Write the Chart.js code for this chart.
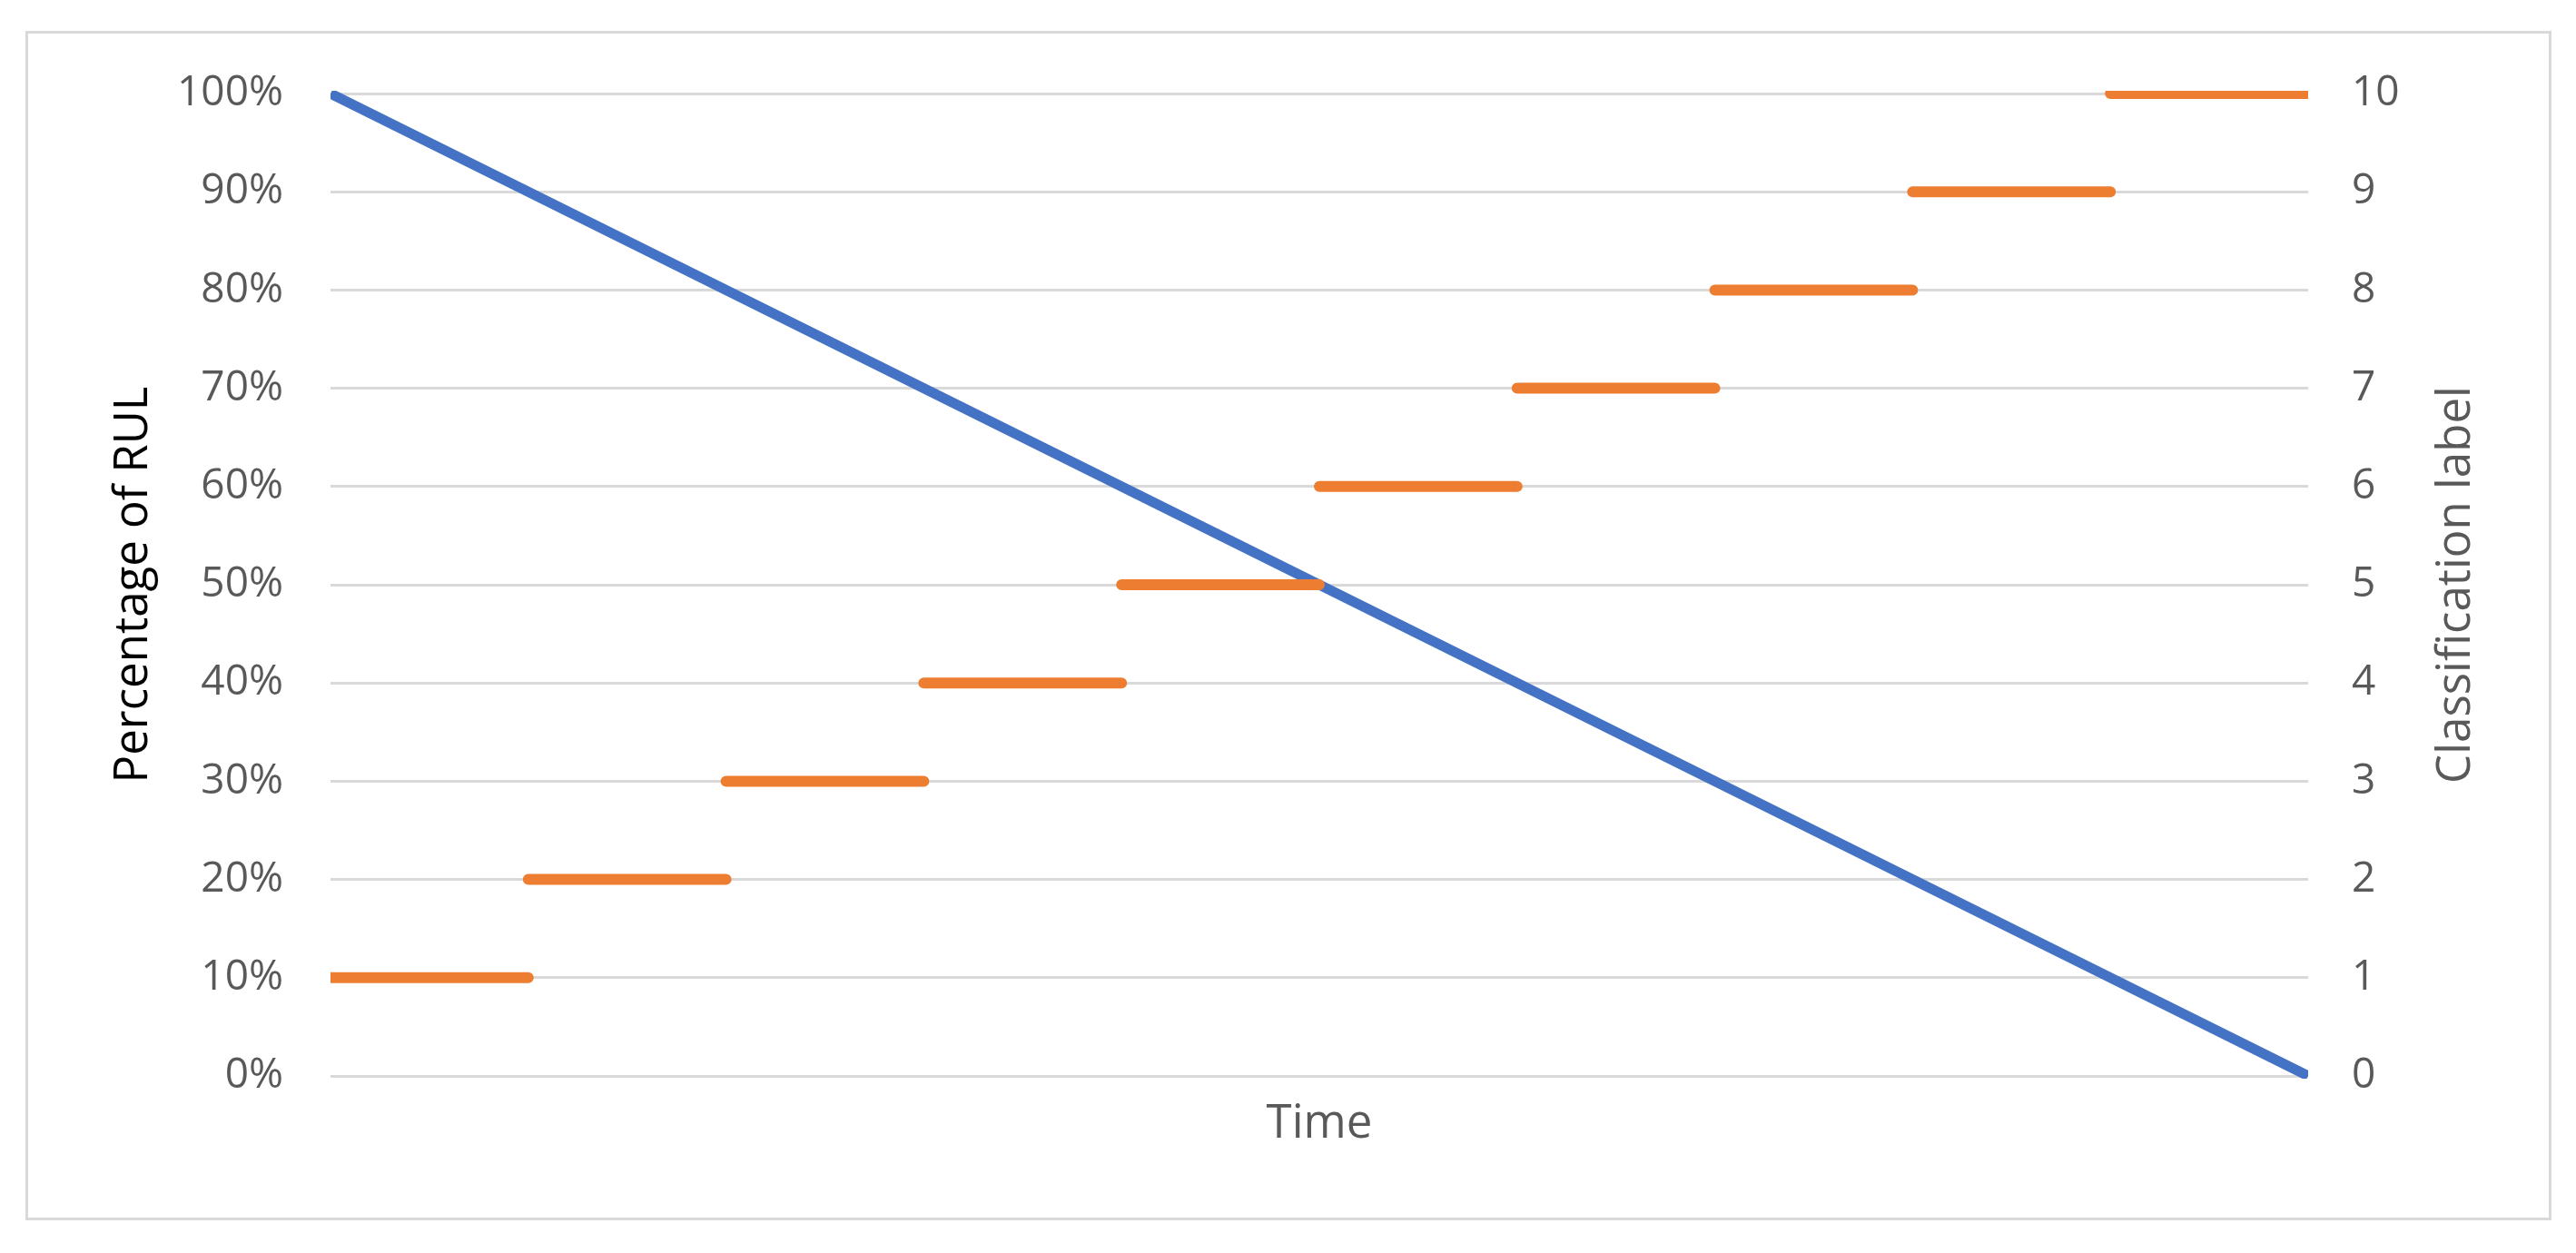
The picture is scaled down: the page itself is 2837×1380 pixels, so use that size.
<!DOCTYPE html>
<html>
<head>
<meta charset="utf-8">
<script src="https://cdn.jsdelivr.net/npm/chart.js@4.4.1/dist/chart.umd.min.js"></script>
<style>
  html, body { margin: 0; padding: 0; background: #fff; }
  #frame {
    position: absolute; left: 28px; top: 34px;
    width: 2782px; height: 1310px;
    box-sizing: border-box; border: 3px solid #d9d9d9; background: #fff;
  }
  #chart { display: block; }
</style>
</head>
<body>
<div id="frame"><canvas id="chart" width="2776" height="1304"></canvas></div>
<script>
// RUL line (percent of remaining useful life over time)
const rulTime = [0, 100];
const rulPercent = [100, 0];

// classification label steps
const classLabels = [1, 2, 3, 4, 5, 6, 7, 8, 9, 10];
const classStart = [0, 10, 20, 30, 40, 50, 60, 70, 80, 90];
const classEnd = [10, 20, 30, 40, 50, 60, 70, 80, 90, 100];

const percentTicks = [0, 10, 20, 30, 40, 50, 60, 70, 80, 90, 100];
const labelTicks = [0, 1, 2, 3, 4, 5, 6, 7, 8, 9, 10];

const rulPoints = rulTime.map((t, i) => ({ x: t, y: rulPercent[i] }));
const classPoints = [];
classLabels.forEach((c, i) => {
    classPoints.push({ x: classStart[i], y: c });
    classPoints.push({ x: classEnd[i], y: c });
    classPoints.push({ x: classEnd[i], y: null });
});

const tickColor = '#595959';
const fontFamily = "'Open Sans', sans-serif";

// right axis title reads bottom-to-top like the left one
const rightTitle = {
    id: 'rightTitle',
    afterDraw(chart) {
        const { ctx, chartArea } = chart;
        ctx.save();
        ctx.translate(2689, (chartArea.top + chartArea.bottom) / 2);
        ctx.rotate(-Math.PI / 2);
        ctx.font = '51px ' + fontFamily;
        ctx.fillStyle = tickColor;
        ctx.textAlign = 'center';
        ctx.textBaseline = 'alphabetic';
        ctx.fillText('Classification label', 0, 0);
        ctx.restore();
    }
};

// fixed axis sizes so the plot area lands where the original has it
const fixWidth = w => s => {
    s.width = w;
    s.paddingTop = 0;
    s.paddingBottom = 0;
};

new Chart(document.getElementById('chart'), {
    type: 'line',
    data: {
        datasets: [{
            label: 'Percentage of RUL',
            data: rulPoints,
            yAxisID: 'y',
            borderColor: '#4472C4',
            borderWidth: 11,
            pointRadius: 0,
            order: 1,
            clip: { left: 0, right: 0, top: 3, bottom: 3 }
        }, {
            label: 'Classification label',
            data: classPoints,
            yAxisID: 'y2',
            borderColor: '#ED7D31',
            borderWidth: 12,
            borderCapStyle: 'round',
            pointRadius: 0,
            spanGaps: false,
            order: 0,
            clip: { left: 0, right: 0, top: 3, bottom: 3 }
        }]
    },
    options: {
        responsive: false,
        animation: false,
        layout: { padding: { top: 66, left: 0, right: 0, bottom: 0 } },
        plugins: { legend: { display: false }, tooltip: { enabled: false } },
        scales: {
            x: {
                type: 'linear',
                min: 0,
                max: 100,
                ticks: { display: false },
                grid: { display: false },
                border: { display: false },
                title: {
                    display: true,
                    text: 'Time',
                    color: tickColor,
                    font: { family: fontFamily, size: 51 },
                    padding: { top: 0, bottom: 72 }
                },
                afterFit: s => { s.height = 156; }
            },
            y: {
                position: 'left',
                min: 0,
                max: 100,
                afterBuildTicks: s => { s.ticks = percentTicks.map(v => ({ value: v })); },
                ticks: {
                    color: tickColor,
                    font: { family: fontFamily, size: 46 },
                    padding: 52,
                    callback: v => v + '%'
                },
                grid: { color: '#d9d9d9', lineWidth: 3, drawTicks: false },
                border: { display: false },
                title: {
                    display: true,
                    text: 'Percentage of RUL',
                    color: '#000',
                    font: { family: fontFamily, size: 51 },
                    padding: { top: 86, bottom: 0 }
                },
                afterFit: fixWidth(333)
            },
            y2: {
                position: 'right',
                min: 0,
                max: 10,
                afterBuildTicks: s => { s.ticks = labelTicks.map(v => ({ value: v })); },
                ticks: {
                    color: tickColor,
                    font: { family: fontFamily, size: 46 },
                    padding: 48
                },
                grid: { display: false, drawTicks: false },
                border: { display: false },
                afterFit: fixWidth(265)
            }
        }
    },
    plugins: [rightTitle]
});
</script>
</body>
</html>
